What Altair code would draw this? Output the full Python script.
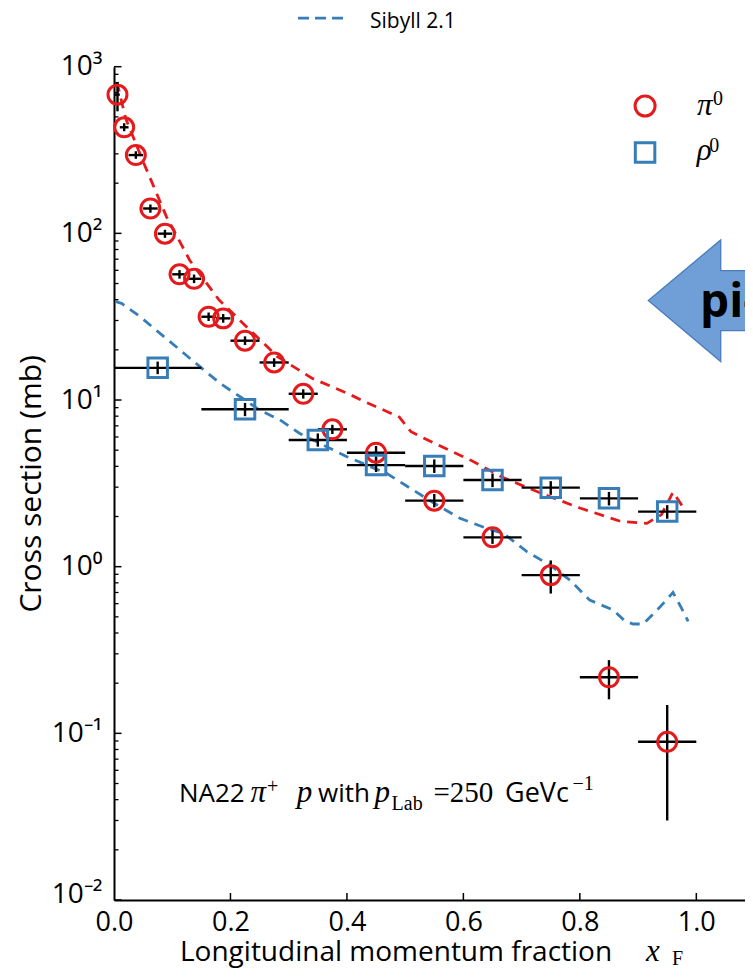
import altair as alt
import pandas as pd

# ---------------- data ----------------
# NA22 pi0 measurements
pi_x = [0.006, 0.0175, 0.0375, 0.0625, 0.0875, 0.1125, 0.1375, 0.1625, 0.1875,
        0.225, 0.275, 0.325, 0.375, 0.45, 0.55, 0.65, 0.75, 0.85, 0.95]
pi_xlo = [0.0, 0.01, 0.025, 0.05, 0.075, 0.1, 0.125, 0.15, 0.175,
          0.2, 0.25, 0.3, 0.35, 0.4, 0.5, 0.6, 0.7, 0.8, 0.9]
pi_xhi = [0.01, 0.025, 0.05, 0.075, 0.1, 0.125, 0.15, 0.175, 0.2,
          0.25, 0.3, 0.35, 0.4, 0.5, 0.6, 0.7, 0.8, 0.9, 1.0]
pi_y = [680, 433, 295, 141, 99.6, 56.8, 53.4, 31.6, 30.9,
        22.7, 16.8, 10.9, 6.67, 4.83, 2.49, 1.50, 0.89, 0.217, 0.089]
pi_ylo = [540, 410, 280, 133, 94, 53.5, 50.3, 29.8, 29.1,
          21.4, 15.8, 10.2, 6.25, 4.4, 2.27, 1.37, 0.69, 0.16, 0.030]
pi_yhi = [810, 458, 311, 149, 105, 60.2, 56.6, 33.5, 32.8,
          24.1, 17.8, 11.6, 7.1, 5.3, 2.73, 1.65, 1.09, 0.275, 0.148]

# NA22 rho0 measurements
rho_x = [0.075, 0.225, 0.35, 0.45, 0.55, 0.65, 0.75, 0.85, 0.95]
rho_xlo = [0.0, 0.15, 0.3, 0.4, 0.5, 0.6, 0.7, 0.8, 0.9]
rho_xhi = [0.15, 0.3, 0.4, 0.5, 0.6, 0.7, 0.8, 0.9, 1.0]
rho_y = [15.6, 8.8, 5.75, 4.07, 4.02, 3.31, 2.98, 2.57, 2.14]
rho_ylo = [14.3, 8.0, 5.25, 3.7, 3.65, 3.0, 2.7, 2.33, 1.94]
rho_yhi = [17.0, 9.6, 6.3, 4.45, 4.4, 3.62, 3.26, 2.81, 2.34]

# Sibyll 2.1 predictions
sib_pi_x = [0.005, 0.02, 0.05, 0.09, 0.13, 0.18, 0.23, 0.28, 0.34, 0.40, 0.43,
            0.49, 0.51, 0.55, 0.61, 0.67, 0.74, 0.80, 0.87, 0.915, 0.94, 0.96, 0.98]
sib_pi_y = [810, 490, 270, 126, 69, 40, 27, 18.3, 13.5, 11.0, 9.8,
            7.9, 6.45, 5.5, 4.4, 3.4, 2.7, 2.25, 1.87, 1.82, 2.05, 2.8, 2.2]
sib_rho_x = [0.002, 0.013, 0.045, 0.079, 0.113, 0.148, 0.182, 0.216, 0.25, 0.285,
             0.319, 0.365, 0.40, 0.468, 0.50, 0.55, 0.594, 0.64, 0.669, 0.709,
             0.749, 0.783, 0.817, 0.857, 0.878, 0.892, 0.909, 0.938, 0.96, 0.975, 0.986]
sib_rho_y = [39, 38, 31.6, 25.1, 20, 15.8, 12.6, 10.5, 8.7, 7.6,
             6.3, 5.25, 4.57, 3.63, 3.09, 2.4, 1.95, 1.70, 1.58, 1.23,
             1.02, 0.83, 0.63, 0.55, 0.47, 0.453, 0.453, 0.575, 0.70, 0.56, 0.47]

# axis ticks
x_ticks = [0.0, 0.2, 0.4, 0.6, 0.8, 1.0]
y_major = [0.01, 0.1, 1, 10, 100, 1000]
y_minor = [m * d for d in [0.01, 0.1, 1, 10, 100] for m in range(2, 10)]

# ---------------- styles ----------------
RED = "#e41a1c"
BLUE = "#377eb8"
SANS = "Open Sans"
SERIF = "Liberation Serif"

W, H = 631, 833.3
XMAX = 1.0836

xs = alt.Scale(domain=[0, XMAX], nice=False, zero=False)
ys = alt.Scale(type="log", domain=[0.01, 1000], nice=False)

X = alt.X("x:Q", scale=xs, axis=alt.Axis(
    values=x_ticks, format=".1f", ticks=False, tickSize=0, labelPadding=9,
    labelFont=SANS, labelFontSize=27, labelColor="black", labelFlush=False,
    labelOverlap=False, domainColor="black", domainWidth=2, grid=False, title=None))
Y = alt.Y("y:Q", scale=ys, axis=alt.Axis(
    values=y_major, ticks=False, tickSize=0, labelPadding=12,
    labelExpr="'10' + ['\u207b\u00b2','\u207b\u00b9','\u2070','\u00b9','\u00b2','\u00b3'][round(log(datum.value)/LN10)+2]",
    labelFont=SANS, labelFontSize=28, labelColor="black", labelOverlap=False,
    labelFlush=False,
    labelOffset={"condition": {"test": "datum.value < 0.02", "value": -6}, "value": 0},
    domainColor="black", domainWidth=2, grid=False,
    title="Cross section (mb)", titleFont=SANS, titleFontSize=30,
    titleFontWeight="normal", titleColor="black", titleAngle=270,
    titleX=-83, titleY=H / 2, titleAlign="center", titleBaseline="middle"))
X2 = alt.X2("x2:Q")
Y2 = alt.Y2("y2:Q")

layers = []

# Sibyll lines
layers.append(alt.Chart(pd.DataFrame({"x": sib_pi_x, "y": sib_pi_y})).mark_line(
    color=RED, strokeWidth=2.8, strokeDash=[10, 7]).encode(x=X, y=Y))
layers.append(alt.Chart(pd.DataFrame({"x": sib_rho_x, "y": sib_rho_y})).mark_line(
    color=BLUE, strokeWidth=2.8, strokeDash=[10, 7]).encode(x=X, y=Y))

# inward ticks
layers.append(alt.Chart(pd.DataFrame({"x": x_ticks[1:]})).mark_rule(
    color="black", strokeWidth=1.5).encode(x=X, y=alt.value(H), y2=alt.value(H - 7)))
layers.append(alt.Chart(pd.DataFrame({"y": y_major})).mark_rule(
    color="black", strokeWidth=1.5).encode(y=Y, x=alt.value(0), x2=alt.value(7.5)))
layers.append(alt.Chart(pd.DataFrame({"y": y_minor})).mark_rule(
    color="black", strokeWidth=1.3).encode(y=Y, x=alt.value(0), x2=alt.value(4.5)))

# error bars
hbar = pd.DataFrame({"x": pi_xlo + rho_xlo, "x2": pi_xhi + rho_xhi, "y": pi_y + rho_y})
vbar = pd.DataFrame({"x": pi_x + rho_x, "y": pi_ylo + rho_ylo, "y2": pi_yhi + rho_yhi})
layers.append(alt.Chart(hbar).mark_rule(color="black", strokeWidth=2.4).encode(x=X, x2=X2, y=Y))
layers.append(alt.Chart(vbar).mark_rule(color="black", strokeWidth=2.4).encode(x=X, y=Y, y2=Y2))

# markers
layers.append(alt.Chart(pd.DataFrame({"x": pi_x, "y": pi_y})).mark_point(
    shape="circle", filled=False, color=RED, strokeWidth=3, size=360, opacity=1).encode(x=X, y=Y))
layers.append(alt.Chart(pd.DataFrame({"x": rho_x, "y": rho_y})).mark_point(
    shape="square", filled=False, color=BLUE, strokeWidth=3, size=380, opacity=1).encode(x=X, y=Y))

# legend (upper right)
layers.append(alt.Chart(pd.DataFrame({"x": [0.912], "y": [581]})).mark_point(
    shape="circle", filled=False, color=RED, strokeWidth=3, size=400, opacity=1).encode(x=X, y=Y))
layers.append(alt.Chart(pd.DataFrame({"x": [0.912], "y": [306]})).mark_point(
    shape="square", filled=False, color=BLUE, strokeWidth=3, size=380, opacity=1).encode(x=X, y=Y))


def text_layer(xv, yv, tv, **mk):
    return alt.Chart(pd.DataFrame({"x": xv, "y": yv, "t": tv})).mark_text(
        align="left", baseline="alphabetic", color="black", **mk).encode(x=X, y=Y, text="t:N")


def text_px(xv, py, tv, **mk):
    return alt.Chart(pd.DataFrame({"x": xv, "t": tv})).mark_text(
        align="left", baseline="alphabetic", color="black", **mk).encode(x=X, y=alt.value(py), text="t:N")


layers.append(text_layer([1.0012, 1.0007], [513, 276], ["\u03c0", "\u03c1"],
                         font=SERIF, fontStyle="italic", fontSize=31))
layers.append(text_layer([1.0285, 1.0221], [589, 309], ["0", "0"], font=SERIF, fontSize=20))

# NA22 annotation
layers.append(text_layer([0.1116, 0.3503], [0.0389] * 2, ["NA22", "with"],
                         font=SANS, fontSize=26))
layers.append(text_layer([0.6715], [0.0389], ["GeVc"], font=SANS, fontSize=27))
layers.append(text_layer([0.2344, 0.3138, 0.4475], [0.0389] * 3, ["\u03c0", "p", "p"],
                         font=SERIF, fontStyle="italic", fontSize=31))
layers.append(text_layer([0.5487], [0.0389], ["=250"], font=SERIF, fontSize=29))
layers.append(text_layer([0.2628, 0.4766, 0.7872], [0.0438, 0.0347, 0.0457], ["+", "Lab", "\u22121"],
                         font=SERIF, fontSize=20))

# pi- arrow annotation
arrow = "M -1 0 L -0.276 -0.607 L -0.276 -0.3 L 1 -0.3 L 1 0.3 L -0.276 0.3 L -0.276 0.61 Z"
layers.append(alt.Chart(pd.DataFrame({"x": [1.0893], "y": [39.5]})).mark_point(
    shape=arrow, filled=True, fill="#6f9fd6", stroke="#4a7cbc", strokeWidth=1.3,
    size=40000, opacity=1).encode(x=X, y=Y))
layers.append(text_layer([1.0064], [31.5], ["pi-"], font=SANS, fontWeight="bold", fontSize=46))

# top legend entry (Sibyll 2.1)
layers.append(alt.Chart(pd.DataFrame({"x": [0.316], "x2": [0.402]})).mark_rule(
    color=BLUE, strokeWidth=2.8, strokeDash=[11, 6]).encode(x=X, x2=X2, y=alt.value(-48.5)))
layers.append(alt.Chart(pd.DataFrame({"x": [0.4396], "t": ["Sibyll 2.1"]})).mark_text(
    align="left", baseline="middle", color="black", font=SANS, fontSize=21).encode(
    x=X, y=alt.value(-44.5), text="t:N"))

# x-axis title
layers.append(text_px([0.1133], 894, ["Longitudinal momentum fraction"], font=SANS, fontSize=28))
layers.append(text_px([0.9136], 894, ["x"], font=SERIF, fontStyle="italic", fontSize=31))
layers.append(text_px([0.9583], 898.5, ["F"], font=SERIF, fontSize=20))

chart = alt.layer(*layers).properties(
    width=W, height=H,
    padding={"left": 106, "top": 58.7, "right": 0, "bottom": 69},
    autosize=alt.AutoSizeParams(type="none"),
).configure_view(stroke=None)

chart.save("out.html", embed_options={"renderer": "svg", "actions": False})
